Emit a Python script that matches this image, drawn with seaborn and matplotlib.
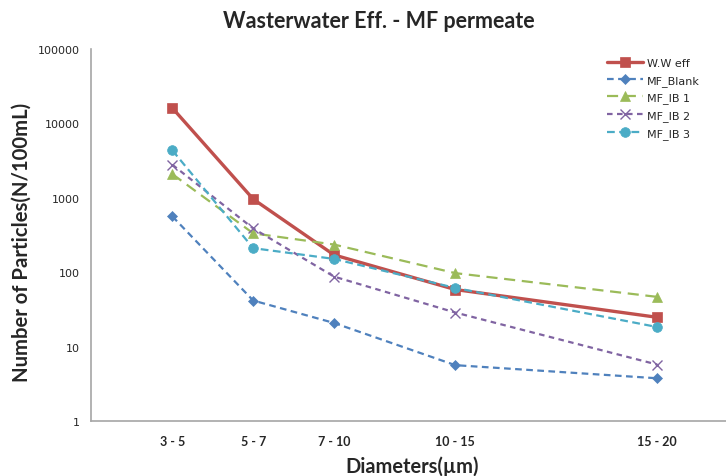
# particle counts per size class, wastewater effluent vs MF permeate
import pandas as pd
import matplotlib
matplotlib.use("Agg")
import matplotlib.pyplot as plt
import seaborn as sns

# x positions = lower bound of each diameter class
diameterLow = [3, 5, 7, 10, 15]
diameterLabels = ["3 - 5", "5 - 7", "7 - 10", "10 - 15", "15 - 20"]

wwEff = [16100, 965, 172, 59, 25]
mfBlank = [565, 42, 21, 5.7, 3.8]
mfIB1 = [2090, 335, 237, 98, 47]
mfIB2 = [2790, 390, 88, 29, 5.8]
mfIB3 = [4350, 212, 152, 62, 18.5]

seriesNames = ["W.W eff", "MF_Blank", "MF_IB 1", "MF_IB 2", "MF_IB 3"]
seriesValues = [wwEff, mfBlank, mfIB1, mfIB2, mfIB3]

rows = []
for name, vals in zip(seriesNames, seriesValues):
    for x, v in zip(diameterLow, vals):
        rows.append({"Diameter": x, "Count": v, "Series": name})
df = pd.DataFrame(rows)

# style per series: colour, marker, dash, linewidth, markersize
styles = {
    "W.W eff":  ("#C0504D", "s", None, 2.4, 7),
    "MF_Blank": ("#4F81BD", "D", (3, 2), 1.6, 5),
    "MF_IB 1":  ("#9BBB59", "^", (5, 3), 1.6, 7),
    "MF_IB 2":  ("#8064A2", "x", (2.5, 2), 1.6, 7),
    "MF_IB 3":  ("#4BACC6", "o", (3.5, 2), 1.6, 7),
}

sns.set_style("white")
plt.rcParams["font.family"] = ["DejaVu Sans"]

fig = plt.figure(figsize=(7.26, 4.77), dpi=100)
ax = fig.add_axes([0.125, 0.1143, 0.875, 0.781])

for name in seriesNames:
    col, mk, dash, lw, ms = styles[name]
    kw = {}
    if dash is not None:
        kw["dashes"] = dash
    sns.lineplot(data=df[df.Series == name], x="Diameter", y="Count", color=col,
                 marker=mk, markersize=ms, linewidth=lw, label=name, ax=ax,
                 markeredgewidth=1.0 if mk == "x" else 0.5, markeredgecolor=col, **kw)

ax.set_yscale("log")
ax.set_ylim(1, 100000)
ax.set_xlim(0.98, 16.7)
ax.set_yticks([1, 10, 100, 1000, 10000, 100000])
ax.set_yticklabels(["1", "10", "100", "1000", "10000", "100000"], fontsize=8)
ax.minorticks_off()
ax.set_xticks(diameterLow)
ax.set_xticklabels(diameterLabels, fontsize=9, family="Lato", fontweight="bold")
ax.tick_params(axis="x", length=0, pad=10)
ax.tick_params(axis="y", length=0, pad=8)
ax.set_xlabel("")
ax.set_ylabel("")

for side in ["top", "right"]:
    ax.spines[side].set_visible(False)
for side in ["left", "bottom"]:
    ax.spines[side].set_color("#A6A6A6")
    ax.spines[side].set_linewidth(1.2)

leg = ax.legend(loc="upper left", bbox_to_anchor=(0.813, 0.976), frameon=False,
                borderpad=0, borderaxespad=0,
                prop={"family": "DejaVu Sans", "size": 8},
                handlelength=3.2, handletextpad=0.35, labelspacing=0.61)

fig.text(379 / 726, 1 - 21 / 477, "Wasterwater Eff. - MF permeate", ha="center", va="center",
         fontsize=15.5, family="Lato", fontweight="bold")
fig.text(412 / 726, 1 - 467 / 477, "Diameters(\u00b5m)", ha="center", va="center",
         fontsize=14.4, family="Lato", fontweight="bold")
fig.text(22 / 726, 1 - 242 / 477, "Number of Particles(N/100mL)", ha="center", va="center",
         rotation=90, fontsize=14.6, family="Lato", fontweight="bold")

fig.savefig("out.png", dpi=100)
